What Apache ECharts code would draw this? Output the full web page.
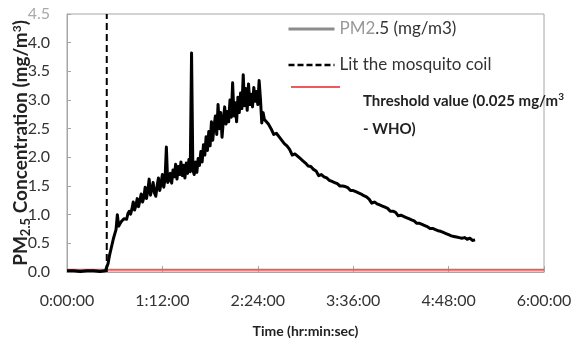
<!DOCTYPE html>
<html>
<head>
<meta charset="utf-8">
<script src="https://cdn.jsdelivr.net/npm/echarts@6/dist/echarts.min.js"></script>
<style>
html,body{margin:0;padding:0;background:#fff;}
#chart{width:581px;height:349px;}
</style>
</head>
<body>
<div id="chart"></div>
<script>
// Time in minutes since start
const times = [0,5,10,15,20,25,29,
30,31,32,33,34,35,36,37,38,39,40,41,42,43,44,45,46,47,48,49,
50,51,52,53,54,55,56,57,58,59,60,61,62,63,64,65,66,67,68,69,
70,71,72,73,74,75,76,77,78,79,80,81,82,83,84,85,86,87,88,89,
90,91,92,93,94,95,96,97,98,99,100,101,102,103,104,105,106,107,108,109,
110,111,112,113,114,115,116,117,118,119,120,121,122,123,124,125,126,127,128,129,
130,131,132,133,134,135,136,137,138,139,140,141,142,143,144,145,146,147,148,149,150,
152,154,156,158,160,162,164,166,168,170,172,174,176,178,180,182,184,186,188,190,
192,194,196,198,200,202,204,206,208,210,212,214,216,218,220,222,224,226,228,230,
232,234,236,238,240,242,244,246,248,250,252,254,256,258,260,262,264,266,268,270,
272,274,276,278,280,282,284,286,288,290,292,294,296,298,300,302,304,306,308];
// PM2.5 concentration (mg/m3)
const pm25 = [0.02,0.02,0.01,0.02,0.02,0.01,0.02,
0.05,0.15,0.28,0.38,0.48,0.58,0.66,0.74,1.00,0.80,0.84,0.88,0.86,0.93,0.96,0.92,1.02,1.06,1.01,1.10,
1.22,1.08,1.16,1.28,1.14,1.25,1.36,1.22,1.30,1.48,1.28,1.42,1.62,1.34,1.44,1.56,1.38,1.32,1.50,1.64,
1.42,1.55,1.70,1.48,1.62,2.18,1.56,1.60,1.72,1.55,1.78,1.66,1.88,1.62,1.84,1.70,1.92,1.68,1.86,1.64,
1.90,1.72,1.96,1.75,3.82,1.78,1.70,1.92,1.74,1.98,1.86,2.10,1.92,2.22,2.04,2.36,2.12,2.45,2.20,2.62,
2.30,2.55,2.72,2.40,2.92,2.50,2.78,2.35,2.64,2.88,2.58,2.80,2.62,3.00,2.70,3.30,2.72,2.95,2.62,3.05,
2.78,3.12,2.85,3.44,2.90,3.20,2.82,3.28,2.92,3.10,2.88,3.22,2.98,3.15,2.92,3.34,3.02,2.60,2.78,2.66,2.64,
2.58,2.50,2.40,2.42,2.36,2.30,2.24,2.20,2.14,2.04,2.06,2.02,1.98,1.94,1.90,1.85,1.84,1.79,1.76,1.68,
1.70,1.66,1.64,1.60,1.58,1.56,1.54,1.50,1.50,1.49,1.47,1.42,1.42,1.40,1.38,1.36,1.33,1.31,1.27,1.20,
1.22,1.19,1.17,1.15,1.13,1.11,1.06,1.06,1.04,0.98,0.99,0.97,0.95,0.93,0.91,0.89,0.85,0.85,0.83,0.81,
0.79,0.76,0.76,0.74,0.72,0.71,0.69,0.67,0.65,0.63,0.62,0.61,0.60,0.59,0.60,0.57,0.59,0.55,0.56];
// Mosquito coil lit (vertical marker)
const litX = [30, 30];
const litY = [0, 4.5];
// Threshold line
const thrX = [0, 360];
const thrY = [0.04, 0.04];
// Axis settings
const yTicks = [0,0.5,1.0,1.5,2.0,2.5,3.0,3.5,4.0,4.5];
const xMin = 0, xMax = 360, xStep = 72;

const FONT = "Lato,'Liberation Sans',sans-serif";
const zip = (a, b) => a.map((v, i) => [v, b[i]]);

const chart = echarts.init(document.getElementById('chart'), null, {renderer: 'canvas'});
chart.setOption({
  animation: false,
  backgroundColor: '#fff',
  grid: {left: 67, right: 37, top: 14, bottom: 77, show: true, borderColor: '#a6a6a6', borderWidth: 1,
    containLabel: false, outerBoundsMode: 'none'},
  xAxis: {
    type: 'value', min: xMin, max: xMax, interval: xStep,
    name: 'Time (hr:min:sec)', nameLocation: 'middle', nameGap: 52, nameMoveOverlap: false,
    nameTextStyle: {fontFamily: FONT, fontWeight: 'bold', fontSize: 14, color: '#222'},
    axisLine: {show: true, lineStyle: {color: '#a6a6a6', width: 1}},
    axisTick: {show: true, inside: true, length: 6, lineStyle: {color: '#a6a6a6'}},
    axisLabel: {fontFamily: FONT, fontSize: 16, color: '#333', margin: 21,
      formatter: v => { const h = Math.floor(v / 60), m = v % 60; return h + ':' + String(m).padStart(2, '0') + ':00'; }},
    splitLine: {show: false}
  },
  yAxis: {
    type: 'value', min: 0, max: 4.5, interval: 0.5,
    name: '{b|PM}{sub|2.5}{b| Concentration (mg/m}{sup|3}{b|)}',
    nameLocation: 'middle', nameGap: 35, nameMoveOverlap: false,
    nameTextStyle: {fontFamily: FONT, fontWeight: 'bold', fontSize: 19, color: '#222',
      rich: {
        b: {fontFamily: FONT, fontWeight: 'bold', fontSize: 19, color: '#222', lineHeight: 22},
        sub: {fontFamily: FONT, fontWeight: 'bold', fontSize: 13, color: '#222', verticalAlign: 'bottom', lineHeight: 22},
        sup: {fontFamily: FONT, fontWeight: 'bold', fontSize: 12, color: '#222', verticalAlign: 'top', lineHeight: 22, padding: [1,0,0,0]}
      }},
    axisLine: {show: true, lineStyle: {color: '#a6a6a6', width: 1}},
    axisTick: {show: true, inside: true, length: 4, lineStyle: {color: '#a6a6a6'}},
    axisLabel: {fontFamily: FONT, fontSize: 16, color: '#333', margin: 17,
      formatter: v => { const s = v.toFixed(1); return v === yTicks[yTicks.length - 1] ? '{l|' + s + '}' : s; },
      rich: {l: {fontFamily: FONT, fontSize: 16, color: '#aaa'}}},
    splitLine: {show: false}
  },
  legend: [{
    orient: 'vertical', left: 287, top: 20, padding: 0, itemGap: 18,
    itemWidth: 46, itemHeight: 14,
    itemStyle: {opacity: 0},
    data: [
      {name: 'PM2.5 (mg/m3)', lineStyle: {color: '#8c8c8c', width: 3, type: 'solid'}},
      {name: 'Lit the mosquito coil', lineStyle: {color: '#000', width: 2.5, type: [6, 3]}}
    ],
    formatter: n => n === 'PM2.5 (mg/m3)' ? '{g|PM2}{d|.5 (mg/m3)}' : n,
    textStyle: {fontFamily: FONT, fontSize: 17, color: '#333', lineHeight: 18,
      rich: {g: {fontFamily: FONT, fontSize: 17, color: '#999', lineHeight: 18}, d: {fontFamily: FONT, fontSize: 17, color: '#333', lineHeight: 18}}}
  }, {
    orient: 'vertical', left: 290, top: 31, padding: 0,
    itemWidth: 49, itemHeight: 14,
    itemStyle: {opacity: 0},
    data: [{name: 'Threshold value (0.025 mg/m3 - WHO)'}],
    formatter: () => '{b|Threshold value (0.025 mg/m}{s|3}\n{b|- WHO)}',
    textStyle: {fontFamily: FONT, fontSize: 15, fontWeight: 'bold', color: '#222', lineHeight: 28, padding: [56, 0, 0, 18],
      rich: {
        b: {fontFamily: FONT, fontSize: 15, fontWeight: 'bold', color: '#222', lineHeight: 28},
        s: {fontFamily: FONT, fontSize: 10, fontWeight: 'bold', color: '#222', lineHeight: 28, verticalAlign: 'top', padding: [5, 0, 0, 0]}
      }}
  }],
  series: [
    {name: 'Threshold value (0.025 mg/m3 - WHO)', type: 'line', data: zip(thrX, thrY), symbol: 'none',
      lineStyle: {color: '#f0585a', width: 2}, z: 1},
    {name: 'Lit the mosquito coil', type: 'line', data: zip(litX, litY), symbol: 'none',
      lineStyle: {color: '#000', width: 2, type: [7, 4]}, z: 2},
    {name: 'PM2.5 (mg/m3)', type: 'line', data: zip(times, pm25), symbol: 'none',
      lineStyle: {color: '#000', width: 3, join: 'round'}, z: 3}
  ]
});
</script>
</body>
</html>
